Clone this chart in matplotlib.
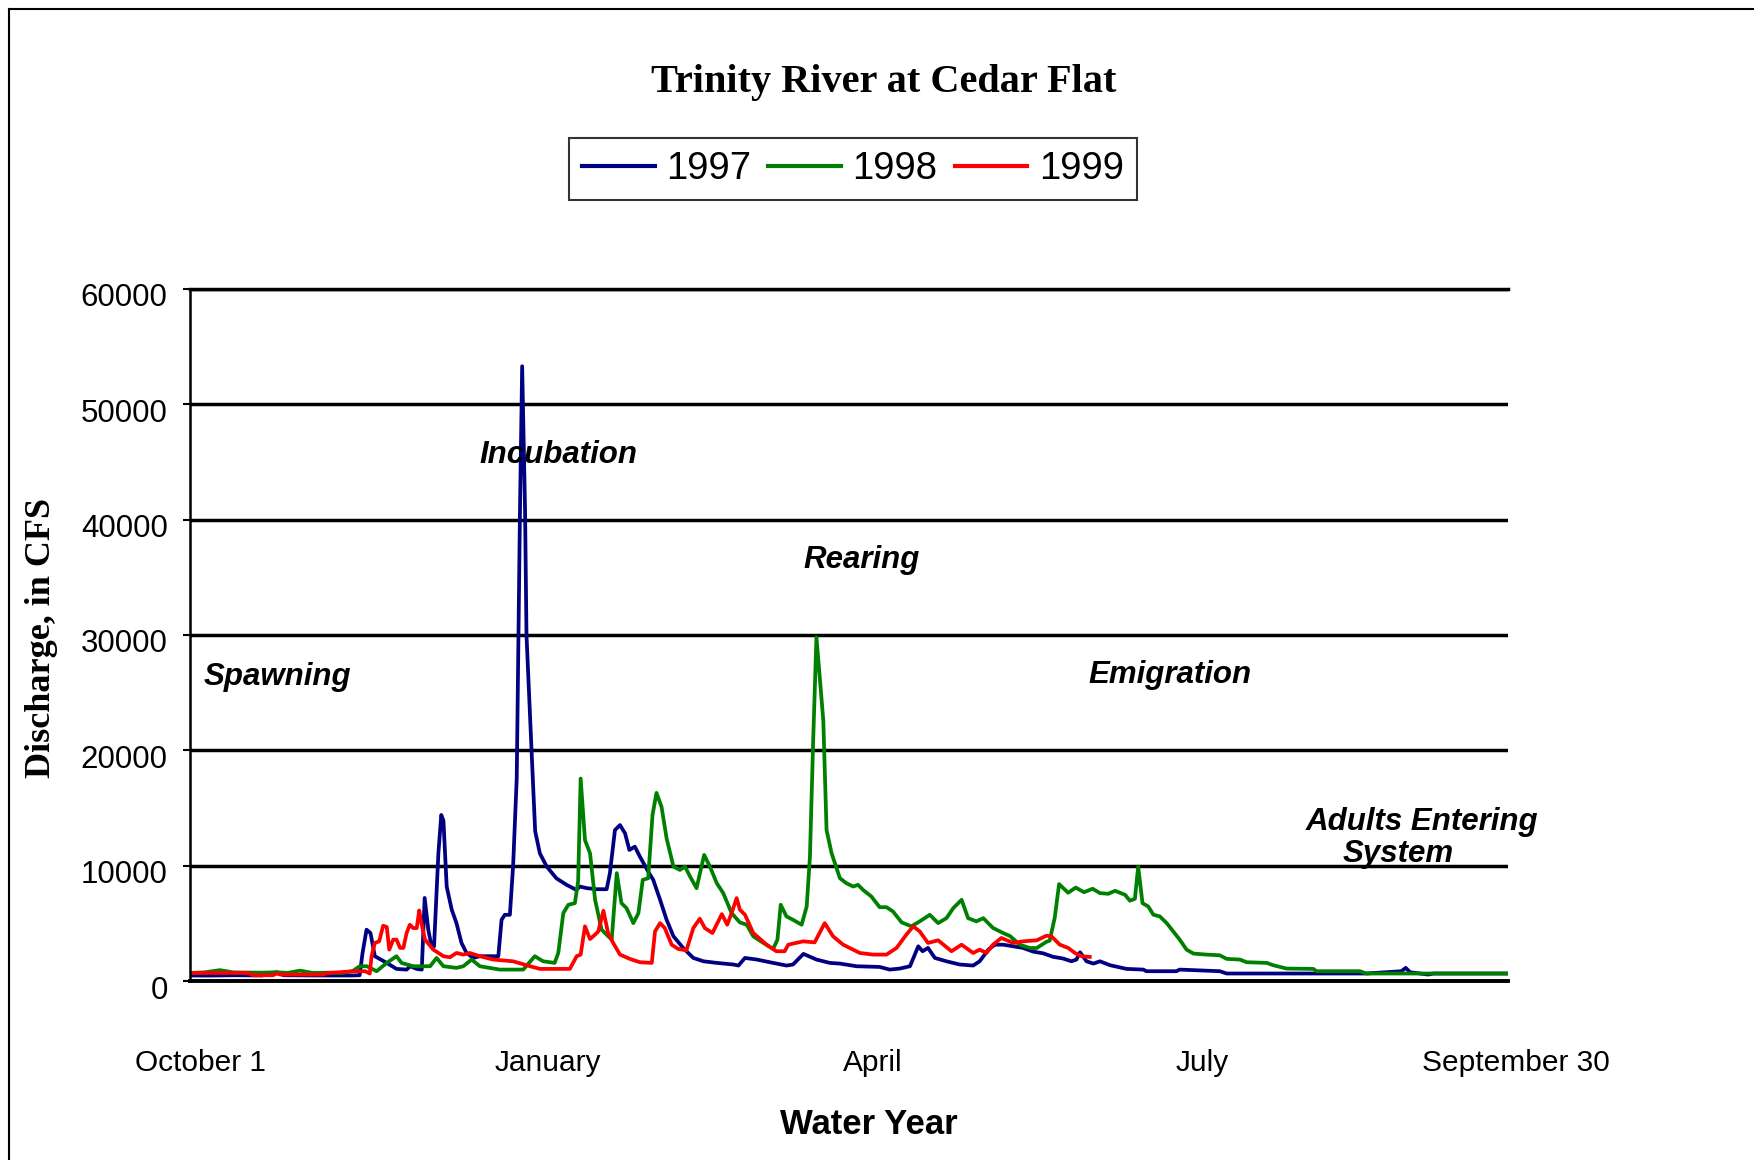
import matplotlib
matplotlib.use("Agg")
import matplotlib.pyplot as plt
from matplotlib.lines import Line2D
from matplotlib.transforms import ScaledTranslation

# daily discharge: day of water year (0 = Oct 1) and cfs
days_1997 = [0, 5, 12, 20, 24, 26, 35, 45, 47, 47.8, 48.9, 50, 51.2, 54.5, 57.2, 60, 61, 62.8, 64.2,
             65, 66, 66.9, 67.6, 68.8, 69.6, 70.2, 71.1, 72.5, 73.8, 75.2, 76.6, 78.5, 80.3, 85.4,
             86.3, 87.2, 88.6, 89.5, 90.5, 91.4, 92.0, 92.8, 93.2, 94.6, 95.6, 96.9, 98.8, 101.5,
             104.3, 107, 108, 109.9, 112.6, 115.4, 116.3, 117.7, 119.1, 120.5, 121.7, 123.2, 124.6,
             126.9, 128.3, 130.2, 132, 133.9, 136.6, 139.4, 142.2, 145.9, 150.5, 151.9, 153.7, 157,
             161.5, 165.2, 167, 169.9, 173.5, 177.2, 180, 184.6, 191, 193.8, 196.6, 199.4, 201.7,
             202.9, 204.4, 206.3, 209.5, 213.2, 216.9, 218.7, 221.1, 222.9, 225.2, 228, 230.7, 233.5,
             236.3, 239, 241.8, 244.1, 245.5, 246.5, 248.3, 250.2, 252, 254.8, 259.4, 264, 264.9,
             273.2, 274.1, 285.2, 287.1, 325.8, 335.5, 336.7, 337.9, 342.9, 344.3, 365]
cfs_1997 = [480, 470, 500, 480, 760, 500, 480, 480, 500, 2430, 4450, 4160, 2150, 1570, 1050, 990, 1280,
            1050, 990, 7200, 4450, 3000, 3000, 11070, 14400, 13900, 8190, 6180, 5030, 3300, 2430, 2000,
            2150, 2150, 5310, 5740, 5740, 10000, 17600, 40900, 53300, 40900, 30000, 20000, 13000,
            11070, 9920, 8900, 8340, 7900, 8190, 8050, 7960, 7960, 9350, 13090, 13520, 12800, 11360,
            11650, 10790, 9490, 8770, 7040, 5310, 3880, 2860, 2000, 1710, 1570, 1430, 1340, 2000, 1860,
            1570, 1340, 1430, 2350, 1860, 1570, 1510, 1280, 1220, 990, 1080, 1280, 3010, 2580, 2870,
            2000, 1710, 1430, 1340, 1710, 2720, 3150, 3150, 3010, 2870, 2550, 2400, 2100, 1950, 1710,
            1860, 2490, 1710, 1510, 1710, 1370, 1050, 990, 850, 850, 990, 850, 650, 650, 850, 1140,
            760, 560, 650, 650]

days_1998 = [0, 4, 8.3, 12, 20, 24, 27, 30.5, 34, 37.8, 42, 45, 47, 49, 51.7, 54.5, 57.2, 58.6, 61.8,
             66.5, 68.3, 70.2, 73.8, 75.7, 78, 80.3, 85.8, 92.3, 95.5, 97.8, 101, 102, 103.4, 104.8,
             106.6, 107.5, 108.2, 109.4, 110.8, 112.2, 114, 115.4, 116.8, 118.2, 119.5, 120.9, 122.8,
             124.2, 125.4, 126.9, 128.1, 129.2, 130.6, 132, 133.9, 135.7, 137.1, 138.5, 140.3, 142.4,
             144, 145.9, 147.7, 150, 152.3, 154.2, 156, 158.8, 161.5, 162.7, 163.6, 165.2, 167, 169.4,
             170.8, 171.7, 172.6, 173.5, 175.4, 176.3, 177.7, 180, 181.8, 183.7, 185, 186.4, 188.7,
             191, 192.9, 194.7, 197.1, 199.8, 202.1, 204.9, 207.2, 209.5, 211.4, 213.7, 215.5, 217.8,
             219.7, 222.4, 225.2, 227.1, 229.8, 232.6, 234.5, 237.2, 238.1, 239.5, 240.7, 243.2,
             245.3, 247.6, 250, 252, 254.3, 256.2, 259, 260.3, 261.7, 262.6, 263.8, 265.4, 266.8,
             268.6, 270.5, 272.3, 274.1, 276, 277.9, 281.5, 285.2, 287.1, 290.8, 292.6, 298.2, 300,
             303.7, 311.1, 312, 324, 325.8, 365]
cfs_1998 = [700, 750, 940, 750, 720, 760, 700, 900, 700, 720, 700, 850, 1280, 1280, 850, 1570, 2150,
            1570, 1280, 1280, 2000, 1280, 1140, 1280, 1860, 1280, 990, 990, 2150, 1710, 1570, 2430,
            5890, 6610, 6750, 8630, 17550, 12220, 11070, 7040, 4450, 4020, 3580, 9350, 6750, 6320,
            5020, 5890, 8770, 8910, 14390, 16310, 15100, 12370, 9920, 9630, 9920, 9060, 8050, 10930,
            9920, 8480, 7610, 5890, 5080, 4880, 3880, 3300, 2780, 3580, 6610, 5600, 5310, 4880, 6460,
            10790, 20900, 29800, 22600, 13090, 11070, 8910, 8480, 8190, 8340, 7900, 7330, 6400, 6400,
            6030, 5080, 4740, 5170, 5740, 5020, 5450, 6320, 7040, 5450, 5170, 5450, 4600, 4160, 3900,
            3150, 2860, 2860, 3400, 3500, 5500, 8400, 7650, 8100, 7700, 8000, 7620, 7560, 7820, 7470,
            6960, 7130, 9920, 6750, 6460, 5750, 5600, 5020, 4310, 3590, 2720, 2380, 2290, 2230, 1920,
            1860, 1630, 1570, 1370, 1080, 1050, 850, 850, 650, 650]

days_1999 = [0, 16, 17.5, 23, 24, 25, 37, 38, 41.5, 45.2, 48.5, 49.8, 50.3, 51.2, 52.4, 53.5, 54.5,
             55.2, 56.3, 57.2, 58.2, 59.1, 60, 60.9, 61.8, 62.8, 63.5, 63.9, 65.1, 67.4, 70.2, 72,
             73.8, 75.7, 77.5, 80.3, 84, 89.5, 94.2, 96.9, 105.2, 107.1, 108.2, 109.4, 110.8, 112.2,
             113.1, 114.5, 115.8, 117.2, 119.1, 121.8, 124.6, 127.9, 128.8, 130.2, 131.5, 133.4,
             135.2, 137.5, 139.4, 141.2, 142.6, 144.7, 147.3, 148.8, 150, 151.4, 152.3, 153.7, 156,
             159.7, 162.4, 164.7, 165.7, 169.8, 173, 175.8, 178.1, 180.9, 185.5, 189.2, 192.9, 195.7,
             198.4, 200.3, 202.1, 204.4, 207.2, 210.9, 213.7, 216.9, 218.7, 220.6, 222.4, 224.7, 228,
             230.7, 234.5, 237.2, 238.6, 240.9, 243.2, 245.1, 246.9, 249.2]
cfs_1999 = [700, 700, 500, 500, 650, 560, 560, 700, 760, 850, 850, 650, 2150, 3300, 3440, 4790, 4680,
            2720, 3590, 3590, 2870, 2870, 4160, 4880, 4590, 4590, 6120, 5310, 3590, 2720, 2150, 2060,
            2430, 2290, 2430, 2150, 1860, 1710, 1280, 1050, 1050, 2150, 2290, 4740, 3640, 4020, 4310,
            6090, 4160, 3300, 2290, 1920, 1630, 1570, 4310, 5020, 4590, 3150, 2780, 2660, 4590, 5400,
            4590, 4160, 5800, 4880, 5890, 7190, 6180, 5750, 4160, 3150, 2580, 2580, 3150, 3440, 3350,
            5020, 3870, 3150, 2430, 2290, 2290, 2870, 4020, 4740, 4300, 3300, 3530, 2580, 3150, 2430,
            2720, 2430, 3150, 3730, 3300, 3440, 3530, 3930, 3870, 3150, 2870, 2430, 2150, 2090]

month_labels = ["October 1", "January", "April", "July", "September 30"]
month_pos = [3, 99, 189, 280.4, 367.1]

stage_labels = ["Spawning", "Incubation", "Rearing", "Emigration", "Adults Entering", "System"]
stage_x = [24.2, 102, 185.9, 271.5, 341.2, 334.7]
stage_y = [26360, 45640, 36530, 26550, 13760, 11050]

SANS = "Liberation Sans"

fig = plt.figure(figsize=(17.54, 11.60), dpi=100)
ax = fig.add_axes([0.1083, 0.1543, 0.7514, 0.5966])

l1, = ax.plot(days_1997, cfs_1997, color="#000080", lw=2.7)
l2, = ax.plot(days_1998, cfs_1998, color="#008000", lw=2.7)
l3, = ax.plot(days_1999, cfs_1999, color="#ff0000", lw=2.7)

ax.set_xlim(0, 365)
ax.set_ylim(0, 60000)
ax.set_yticks(range(0, 60001, 10000))
ax.set_xticks([])
ax.yaxis.grid(True, color="black", lw=2.5)
ax.set_axisbelow(True)
ax.spines["right"].set_visible(False)
ax.spines["top"].set_linewidth(2.5)
ax.spines["bottom"].set_linewidth(2.8)
ax.spines["left"].set_linewidth(1.8)
ax.tick_params(axis="y", length=5, width=1.5, pad=11, labelsize=22.5)
shift = ScaledTranslation(0, -6 / 100, fig.dpi_scale_trans)
for t in ax.get_yticklabels():
    t.set_fontfamily(SANS)
    t.set_transform(t.get_transform() + shift)

for lab, x in zip(month_labels, month_pos):
    ax.text(x, -0.1185, lab, transform=ax.get_xaxis_transform(), ha="center", va="center",
            fontsize=21.5, family=SANS, clip_on=False)

for lab, x, y in zip(stage_labels, stage_x, stage_y):
    ax.text(x, y, lab, ha="center", va="center", fontsize=22.5, family=SANS,
            weight="bold", style="italic")

fig.text(0.504, 0.929, "Trinity River at Cedar Flat", ha="center", va="center", fontsize=29,
         family="Liberation Serif", weight="bold")
fig.text(0.4955, 0.031, "Water Year", ha="center", va="center", fontsize=25,
         family=SANS, weight="bold")
fig.text(0.0234, 0.45, "Discharge, in CFS", ha="center", va="center", rotation=90, fontsize=26,
         family="Liberation Serif", weight="bold")

leg = fig.legend([l1, l2, l3], ["1997", "1998", "1999"], loc="center",
                 bbox_to_anchor=(0.4863, 0.8543), ncol=3, fancybox=False, edgecolor="black",
                 prop={"family": SANS, "size": 27.5}, handlelength=1.9,
                 handletextpad=0.3, columnspacing=0.45, borderpad=0.35)
leg.get_frame().set_linewidth(1.5)
for h in leg.get_lines():
    h.set_linewidth(3)

# outer frame (top and left edges only, as in the original)
fig.add_artist(Line2D([0.0051, 1], [0.9922, 0.9922], color="black", lw=1.5))
fig.add_artist(Line2D([0.0051, 0.0051], [0, 0.9922], color="black", lw=1.5))

fig.savefig("out.png", dpi=100)
